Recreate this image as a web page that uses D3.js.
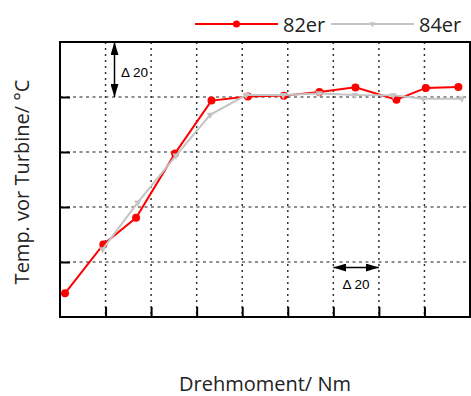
<!DOCTYPE html>
<html>
<head>
<meta charset="utf-8">
<script src="https://cdn.jsdelivr.net/npm/d3@7"></script>
<style>
  html, body { margin: 0; padding: 0; background: #fff; }
  svg { display: block; }
</style>
</head>
<body>
<svg id="chart" width="471" height="396"></svg>
<script>
// Torque (Nm, relative) and turbine inlet temperature (°C, relative) per engine variant
const torque82 = [2.2, 19.0, 33.4, 50.5, 66.5, 82.5, 98.3, 113.9, 129.7, 147.7, 160.6, 174.9];
const temp82   = [8.6, 26.4, 36.1, 59.5, 78.7, 80.2, 80.5, 81.8, 83.5, 79.0, 83.3, 83.6];
const torque84 = [18.7, 34.1, 50.9, 65.9, 81.7, 98.0, 113.8, 129.5, 146.3, 159.5, 176.4];
const temp84   = [24.6, 41.6, 58.7, 73.5, 80.7, 80.7, 81.3, 80.7, 80.6, 79.4, 79.4];
const seriesNames = ["82er", "84er"];
const xTicks = [0, 20, 40, 60, 80, 100, 120, 140, 160, 180];
const yTicks = [0, 20, 40, 60, 80, 100];

const svg = d3.select("#chart");
const m = { left: 60, top: 42, right: 470, bottom: 317 };

const x = d3.scaleLinear().domain([0, 180]).range([m.left, m.right]);
const y = d3.scaleLinear().domain([0, 100]).range([m.bottom, m.top]);

const sansUI = "'Open Sans', 'Noto Sans', sans-serif";
const sansNote = "'Liberation Sans', Arial, sans-serif";

// Arrowhead markers for the scale annotations
const defs = svg.append("defs");
defs.append("marker")
  .attr("id", "arrowhead")
  .attr("viewBox", "0 0 13 8")
  .attr("refX", 13).attr("refY", 4)
  .attr("markerWidth", 13).attr("markerHeight", 8)
  .attr("markerUnits", "userSpaceOnUse")
  .attr("orient", "auto-start-reverse")
  .append("path").attr("d", "M0,0 L13,4 L0,8 Z").attr("fill", "#000");

// Dotted grid
const grid = svg.append("g");
grid.selectAll("line.v").data(xTicks.slice(1, -1)).join("line")
  .attr("x1", d => x(d)).attr("x2", d => x(d))
  .attr("y1", m.top).attr("y2", m.bottom)
  .attr("stroke", "#333").attr("stroke-width", 1.5)
  .attr("stroke-dasharray", "2,4");
grid.selectAll("line.h").data(yTicks.slice(1, -1)).join("line")
  .attr("y1", d => y(d)).attr("y2", d => y(d))
  .attr("x1", m.left).attr("x2", m.right)
  .attr("stroke", "#222").attr("stroke-width", 1.2)
  .attr("stroke-dasharray", "3,3.5");

// Axes with inward ticks, no labels
svg.append("g").attr("transform", `translate(0,${m.bottom})`)
  .call(d3.axisBottom(x).tickValues(xTicks.slice(1, -1)).tickSize(-10).tickFormat(""))
  .call(g => g.select(".domain").remove())
  .call(g => g.selectAll(".tick line").attr("stroke", "#000").attr("stroke-width", 2));
svg.append("g").attr("transform", `translate(${m.left},0)`)
  .call(d3.axisLeft(y).tickValues(yTicks.slice(1, -1)).tickSize(-10).tickFormat(""))
  .call(g => g.select(".domain").remove())
  .call(g => g.selectAll(".tick line").attr("stroke", "#000").attr("stroke-width", 2));

// Frame
svg.append("rect")
  .attr("x", m.left).attr("y", m.top)
  .attr("width", m.right - m.left).attr("height", m.bottom - m.top)
  .attr("fill", "none").attr("stroke", "#000").attr("stroke-width", 2);

const line = d3.line().x(d => x(d[0])).y(d => y(d[1]));
const data82 = torque82.map((t, i) => [t, temp82[i]]);
const data84 = torque84.map((t, i) => [t, temp84[i]]);
const tri = d3.symbol().type(d3.symbolTriangle).size(22);

// 82er series
svg.append("path").datum(data82)
  .attr("d", line).attr("fill", "none")
  .attr("stroke", "#ff0000").attr("stroke-width", 2);
svg.append("g").selectAll("circle").data(data82).join("circle")
  .attr("cx", d => x(d[0])).attr("cy", d => y(d[1])).attr("r", 4)
  .attr("fill", "#ff0000");

// 84er series
svg.append("path").datum(data84)
  .attr("d", line).attr("fill", "none")
  .attr("stroke", "#c4c4c4").attr("stroke-width", 2);
svg.append("g").selectAll("path").data(data84).join("path")
  .attr("d", tri)
  .attr("transform", d => `translate(${x(d[0])},${y(d[1])}) rotate(180)`)
  .attr("fill", "#c4c4c4");

// Scale annotations (one grid step = 20)
svg.append("line")
  .attr("x1", 114.5).attr("x2", 114.5)
  .attr("y1", y(100)).attr("y2", y(80))
  .attr("stroke", "#000").attr("stroke-width", 1.5)
  .attr("marker-start", "url(#arrowhead)").attr("marker-end", "url(#arrowhead)");
svg.append("text")
  .attr("x", 121).attr("y", 77)
  .attr("font-family", sansNote).attr("font-size", 13.5).attr("fill", "#000")
  .text("Δ 20");

svg.append("line")
  .attr("x1", x(120)).attr("x2", x(140))
  .attr("y1", 267.5).attr("y2", 267.5)
  .attr("stroke", "#000").attr("stroke-width", 1.5)
  .attr("marker-start", "url(#arrowhead)").attr("marker-end", "url(#arrowhead)");
svg.append("text")
  .attr("x", x(130)).attr("y", 289).attr("text-anchor", "middle")
  .attr("font-family", sansNote).attr("font-size", 13.5).attr("fill", "#000")
  .text("Δ 20");

// Axis titles
svg.append("text")
  .attr("x", x(90)).attr("y", 391).attr("text-anchor", "middle")
  .attr("font-family", sansUI).attr("font-size", 20).attr("fill", "#222")
  .text("Drehmoment/ Nm");
svg.append("text")
  .attr("transform", "translate(28.5,182) rotate(-90)")
  .attr("text-anchor", "middle")
  .attr("font-family", sansUI).attr("font-size", 20).attr("fill", "#222")
  .text("Temp. vor Turbine/ °C");

// Legend
const legend = svg.append("g");
const legendItems = [
  { name: seriesNames[0], color: "#ff0000", x0: 195, x1: 278, tx: 283, marker: "circle" },
  { name: seriesNames[1], color: "#c4c4c4", x0: 331, x1: 414, tx: 419, marker: "tri" }
];
legendItems.forEach(it => {
  legend.append("line")
    .attr("x1", it.x0).attr("x2", it.x1).attr("y1", 24).attr("y2", 24)
    .attr("stroke", it.color).attr("stroke-width", 2);
  const cx = (it.x0 + it.x1) / 2;
  if (it.marker === "circle") {
    legend.append("circle").attr("cx", cx).attr("cy", 24).attr("r", 3.5).attr("fill", it.color);
  } else {
    legend.append("path").attr("d", d3.symbol().type(d3.symbolTriangle).size(16))
      .attr("transform", `translate(${cx},24) rotate(180)`).attr("fill", it.color);
  }
  legend.append("text")
    .attr("x", it.tx).attr("y", 32)
    .attr("font-family", sansUI).attr("font-size", 20).attr("fill", "#222")
    .text(it.name);
});
</script>
</body>
</html>
